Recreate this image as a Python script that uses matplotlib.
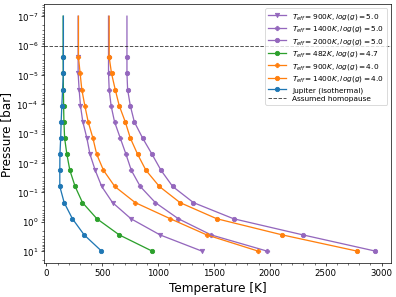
import numpy as np
import matplotlib.pyplot as plt
from matplotlib.ticker import NullFormatter

# pressure levels [bar], low pressure first
logp = np.array([-5.6, -5.05, -4.5, -3.95, -3.4, -2.85, -2.3, -1.75, -1.2, -0.65, -0.1, 0.45, 1.0])
pres = 10**logp
p_top = 1e-7
homopause = 1e-6

T_900_g5 = [284, 284, 293, 305, 326, 362, 390, 437, 495, 592, 757, 1017, 1390]
T_1400_g5 = [556, 556, 562, 579, 610, 661, 712, 760, 840, 975, 1181, 1474, 1973]
T_2000_g5 = [721, 721, 727, 751, 787, 861, 945, 1026, 1130, 1316, 1675, 2296, 2942]
T_482_g47 = [150, 151, 152, 154, 157, 163, 183, 210, 257, 323, 452, 652, 945]
T_900_g4 = [287, 302, 317, 344, 374, 416, 450, 511, 612, 795, 1109, 1435, 1893]
T_1400_g4 = [562, 583, 616, 652, 706, 751, 816, 891, 1011, 1196, 1525, 2111, 2778]
T_jupiter = [152, 152, 145, 138, 132, 128, 121, 120, 120, 159, 233, 338, 493]

profiles = [
    (T_900_g5, r'$T_{eff} = 900K, log(g) = 5.0$', 'tab:purple', 'v'),
    (T_1400_g5, r'$T_{eff} = 1400K, log(g) = 5.0$', 'tab:purple', 'P'),
    (T_2000_g5, r'$T_{eff} = 2000K, log(g) = 5.0$', 'tab:purple', 'o'),
    (T_482_g47, r'$T_{eff} = 482K, log(g) = 4.7$', 'tab:green', 'o'),
    (T_900_g4, r'$T_{eff} = 900K, log(g) = 4.0$', 'tab:orange', 'P'),
    (T_1400_g4, r'$T_{eff} = 1400K, log(g) = 4.0$', 'tab:orange', 'o'),
    (T_jupiter, 'Jupiter (isothermal)', 'tab:blue', 'o'),
]

fig = plt.figure(figsize=(6.4, 4.8), dpi=62)
ax = fig.add_subplot(111)
fig.subplots_adjust(left=0.111, right=0.985, top=0.983, bottom=0.115)

for T, lab, col, mk in profiles:
    # isothermal extension up to the top of the grid
    TT = np.concatenate([[T[0]], T])
    pp = np.concatenate([[p_top], pres])
    ax.plot(TT, pp, color=col, marker=mk, ms=5, markevery=list(range(1, len(pp))), label=lab)

ax.axhline(homopause, color='k', ls='--', alpha=0.7, lw=1.1, label='Assumed homopause')

ax.set_yscale('log')
ax.invert_yaxis()
ax.minorticks_on()
ax.yaxis.set_minor_formatter(NullFormatter())
ax.set_xlabel('Temperature [K]', fontsize=14)
ax.set_ylabel('Pressure [bar]', fontsize=14)
ax.legend(loc='upper right', fontsize=8.5, labelspacing=0.35, handlelength=2.5)

fig.savefig('out.png', dpi=62)
